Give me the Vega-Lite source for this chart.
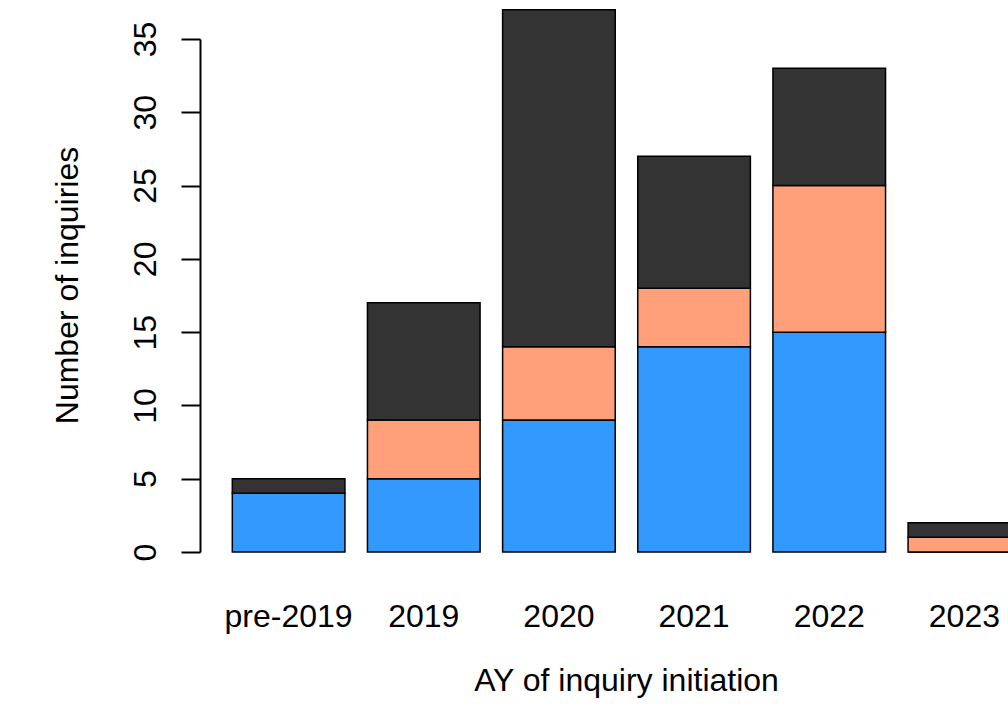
{
  "$schema": "https://vega.github.io/schema/vega-lite/v6.json",
  "autosize": "none",
  "padding": {"left": 200, "top": 39, "right": 0, "bottom": 158},
  "width": 808,
  "height": 513,
  "background": "white",
  "config": {
    "view": {"stroke": null},
    "font": "Liberation Sans"
  },
  "data": {
    "values": [
      {"year": "pre-2019", "group": "Group A", "rank": 1, "count": 4},
      {"year": "pre-2019", "group": "Group B", "rank": 2, "count": 0},
      {"year": "pre-2019", "group": "Group C", "rank": 3, "count": 1},
      {"year": "2019", "group": "Group A", "rank": 1, "count": 5},
      {"year": "2019", "group": "Group B", "rank": 2, "count": 4},
      {"year": "2019", "group": "Group C", "rank": 3, "count": 8},
      {"year": "2020", "group": "Group A", "rank": 1, "count": 9},
      {"year": "2020", "group": "Group B", "rank": 2, "count": 5},
      {"year": "2020", "group": "Group C", "rank": 3, "count": 23},
      {"year": "2021", "group": "Group A", "rank": 1, "count": 14},
      {"year": "2021", "group": "Group B", "rank": 2, "count": 4},
      {"year": "2021", "group": "Group C", "rank": 3, "count": 9},
      {"year": "2022", "group": "Group A", "rank": 1, "count": 15},
      {"year": "2022", "group": "Group B", "rank": 2, "count": 10},
      {"year": "2022", "group": "Group C", "rank": 3, "count": 8},
      {"year": "2023", "group": "Group A", "rank": 1, "count": 0},
      {"year": "2023", "group": "Group B", "rank": 2, "count": 1},
      {"year": "2023", "group": "Group C", "rank": 3, "count": 1}
    ]
  },
  "mark": {"type": "bar", "stroke": "black", "strokeWidth": 1.5, "clip": false},
  "encoding": {
    "x": {
      "field": "year",
      "type": "nominal",
      "sort": ["pre-2019", "2019", "2020", "2021", "2022", "2023"],
      "scale": {"range": [0, 853], "paddingInner": 0.1667, "paddingOuter": 0.239},
      "axis": {
        "title": "AY of inquiry initiation",
        "labelAngle": 0,
        "labelAlign": "center",
        "labelBaseline": "alphabetic",
        "labelFontSize": 32,
        "labelColor": "black",
        "labelPadding": 74,
        "ticks": false,
        "tickSize": 0,
        "domain": false,
        "titleFontSize": 32,
        "titleFontWeight": "normal",
        "titleColor": "black",
        "titleBaseline": "alphabetic",
        "titleAnchor": "middle",
        "titleX": 426,
        "titleY": 138
      }
    },
    "y": {
      "field": "count",
      "type": "quantitative",
      "stack": "zero",
      "scale": {"domain": [0, 35], "nice": false, "zero": true},
      "axis": {
        "title": "Number of inquiries",
        "values": [0, 5, 10, 15, 20, 25, 30, 35],
        "grid": false,
        "labelAngle": -90,
        "labelAlign": "center",
        "labelBaseline": "alphabetic",
        "labelFontSize": 32,
        "labelColor": "black",
        "labelPadding": 26,
        "tickSize": 19,
        "tickWidth": 2,
        "tickColor": "black",
        "domainColor": "black",
        "domainWidth": 2,
        "titleFontSize": 32,
        "titleFontWeight": "normal",
        "titleColor": "black",
        "titleAngle": -90,
        "titleBaseline": "alphabetic",
        "titleAnchor": "middle",
        "titleX": -123,
        "titleY": 246
      }
    },
    "color": {
      "field": "group",
      "type": "nominal",
      "scale": {"domain": ["Group A", "Group B", "Group C"], "range": ["#3399FF", "#FFA07A", "#333333"]},
      "legend": null
    },
    "order": {"field": "rank", "type": "quantitative"}
  }
}
